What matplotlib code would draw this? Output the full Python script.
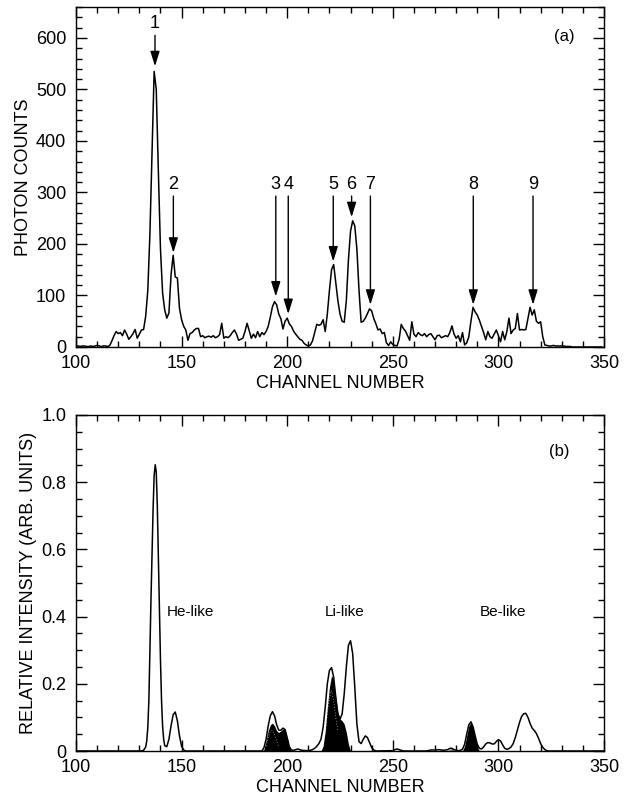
import matplotlib
matplotlib.use('Agg')
import matplotlib.pyplot as plt
from matplotlib.ticker import MultipleLocator, FixedLocator

plt.rcParams['font.family'] = ['Liberation Sans', 'DejaVu Sans']

# ---- panel (a): measured spectrum, one value per channel 100..349 ----
channels = list(range(100, 350))
counts = [2, 2, 1, 2, 2, 1, 1, 2, 1, 2,
          3, 2, 1, 2, 2, 1, 3, 12, 22, 30,
          26, 28, 22, 33, 25, 15, 20, 26, 34, 17,
          25, 33, 34, 60, 110, 220, 380, 535, 500, 340,
          190, 105, 72, 56, 66, 140, 178, 136, 134, 75,
          53, 40, 33, 13, 26, 28, 33, 36, 36, 20,
          22, 18, 20, 21, 19, 22, 18, 20, 24, 46,
          17, 20, 18, 22, 28, 33, 25, 13, 15, 17,
          30, 46, 32, 17, 25, 18, 30, 20, 28, 24,
          30, 40, 58, 78, 88, 82, 64, 55, 35, 50,
          56, 45, 40, 31, 25, 20, 15, 13, 7, 4,
          2, 4, 12, 28, 44, 42, 44, 53, 30, 64,
          110, 150, 160, 125, 90, 64, 50, 48, 90, 170,
          225, 245, 235, 190, 110, 48, 50, 56, 65, 74,
          70, 55, 45, 33, 35, 26, 28, 8, 3, 10,
          5, 3, 2, 15, 44, 36, 31, 22, 13, 49,
          25, 20, 28, 24, 22, 26, 20, 24, 26, 20,
          14, 22, 23, 18, 20, 22, 20, 28, 41, 25,
          17, 22, 10, 28, 4, 8, 20, 50, 77, 68,
          62, 52, 40, 28, 14, 30, 20, 17, 25, 33,
          22, 10, 30, 14, 30, 56, 26, 33, 36, 65,
          33, 34, 33, 34, 55, 77, 62, 72, 50, 46,
          49, 20, 4, 3, 2, 2, 3, 2, 2, 2,
          2, 2, 1, 1, 1, 0, 0, 0, 0, 0,
          0, 0, 0, 0, 0, 0, 0, 0, 0, 0]

arrow_labels = ['1', '2', '3', '4', '5', '6', '7', '8', '9']
arrow_ch = [137.4, 146.1, 194.6, 200.5, 221.8, 230.5, 239.4, 288.1, 316.4]
arrow_tip = [545, 183, 98, 64, 166, 252, 82, 82, 82]
arrow_tail = [605, 293, 293, 293, 293, 293, 293, 293, 293]
label_y = [627, 316, 316, 316, 316, 316, 316, 316, 316]

# ---- panel (b): calculated relative intensities ----
b_ch = [100, 131, 132, 133, 133.5, 134, 134.5, 135, 135.5, 136, 136.5, 137, 137.5,
        138, 138.5, 139, 139.5, 140, 140.5, 141, 141.5, 142, 143, 144, 145, 146,
        147, 148, 149, 150, 151, 152, 188, 189, 190, 191, 192, 193, 194, 195,
        196, 197, 198, 199, 200, 201, 202, 203, 204, 205, 206, 207, 210, 211,
        212, 213, 214, 215, 216, 217, 218, 219, 220, 221, 222, 223, 224, 225,
        226, 227, 228, 229, 230, 231, 232, 233, 234, 235, 236, 237, 238, 239,
        240, 241, 242, 250, 251, 252, 253, 254, 255, 266, 268, 270, 272, 274,
        276, 277, 278, 279, 281, 282, 283, 284, 285, 286, 287, 288, 289, 290,
        291, 292, 293, 294, 295, 296, 297, 298, 299, 300, 301, 302, 303, 304,
        305, 306, 307, 308, 309, 310, 311, 312, 313, 314, 315, 316, 317, 318,
        319, 320, 321, 322, 323, 324, 350]
b_int = [0, 0, 0.002, 0.012, 0.03, 0.07, 0.15, 0.3, 0.45, 0.58, 0.72, 0.82, 0.852,
         0.83, 0.73, 0.58, 0.42, 0.27, 0.15, 0.075, 0.035, 0.016, 0.013, 0.035, 0.075, 0.108,
         0.116, 0.09, 0.045, 0.014, 0.003, 0, 0, 0.01, 0.035, 0.075, 0.105, 0.117, 0.105, 0.078,
         0.062, 0.062, 0.068, 0.064, 0.04, 0.013, 0.003, 0.002, 0.004, 0.006, 0.004, 0.002, 0.001, 0.002,
         0.004, 0.008, 0.014, 0.022, 0.035, 0.07, 0.13, 0.2, 0.24, 0.248, 0.22, 0.16, 0.11, 0.095,
         0.11, 0.17, 0.25, 0.315, 0.328, 0.29, 0.19, 0.08, 0.028, 0.022, 0.035, 0.045, 0.04, 0.025,
         0.01, 0.003, 0, 0.001, 0.004, 0.006, 0.004, 0.002, 0, 0, 0.003, 0.003, 0.004, 0.002,
         0.004, 0.008, 0.008, 0.004, 0.001, 0.002, 0.005, 0.02, 0.05, 0.078, 0.087, 0.072, 0.045, 0.02,
         0.008, 0.006, 0.012, 0.021, 0.025, 0.024, 0.021, 0.021, 0.028, 0.034, 0.03, 0.018, 0.008, 0.005,
         0.007, 0.012, 0.022, 0.04, 0.062, 0.085, 0.103, 0.111, 0.112, 0.1, 0.082, 0.068, 0.061, 0.052,
         0.038, 0.022, 0.011, 0.004, 0.001, 0, 0]

# black filled components (Li-like and Be-like lines)
fill1_ch = list(range(188, 203))
fill1 = [0, 0.005, 0.03, 0.06, 0.078, 0.083, 0.075, 0.06, 0.055, 0.06, 0.066, 0.062, 0.035, 0.01, 0]
fill2_ch = list(range(216, 231))
fill2 = [0, 0.015, 0.06, 0.13, 0.19, 0.225, 0.21, 0.16, 0.115, 0.095, 0.09, 0.08, 0.055, 0.02, 0]
fill3_ch = list(range(283, 292))
fill3 = [0, 0.015, 0.045, 0.075, 0.085, 0.07, 0.04, 0.012, 0]
grey_ch = [276, 277, 278, 279, 280]
grey = [0, 0.006, 0.007, 0.003, 0]
# white dotted sub-components inside the fills
sub1_ch = list(range(190, 197))
sub1 = [0.015, 0.04, 0.058, 0.062, 0.05, 0.03, 0.012]
sub2_ch = list(range(218, 225))
sub2 = [0.05, 0.11, 0.16, 0.18, 0.15, 0.1, 0.06]

fig = plt.figure(figsize=(6.3, 8.01), dpi=100)
ax1 = fig.add_axes([76/630, 1 - 347/801, 528/630, 340/801])
ax2 = fig.add_axes([76/630, 1 - 751/801, 528/630, 336/801])

fs = 13

def style(ax):
    ax.set_xlim(100, 350)
    ax.xaxis.set_major_locator(MultipleLocator(50))
    ax.xaxis.set_minor_locator(MultipleLocator(10))
    ax.tick_params(which='both', direction='in', top=True, right=True, width=1)
    ax.tick_params(which='major', length=8, labelsize=fs)
    ax.tick_params(which='minor', length=4.5)
    ax.tick_params(axis='x', pad=6)
    ax.tick_params(axis='y', pad=7)
    for s in ax.spines.values():
        s.set_linewidth(1)
    ax.set_xlabel('CHANNEL NUMBER', fontsize=fs, labelpad=2)

# (a)
ax1.plot(channels, counts, color='k', lw=1.1)
style(ax1)
ax1.set_ylim(0, 660)
ax1.yaxis.set_major_locator(MultipleLocator(100))
ax1.yaxis.set_minor_locator(MultipleLocator(20))
ax1.set_ylabel('PHOTON COUNTS', fontsize=fs, labelpad=3)
for i in range(len(arrow_labels)):
    ax1.annotate('', xy=(arrow_ch[i], arrow_tip[i]), xytext=(arrow_ch[i], arrow_tail[i]),
                 arrowprops=dict(arrowstyle='-|>,head_length=0.45,head_width=0.14',
                                 color='k', lw=1.0, shrinkA=0, shrinkB=0,
                                 mutation_scale=20))
    ax1.text(arrow_ch[i], label_y[i], arrow_labels[i], ha='center', va='center', fontsize=fs)
ax1.text(331, 602, '(a)', ha='center', va='center', fontsize=fs - 1)

# (b)
ax2.fill_between(fill1_ch, 0, fill1, color='k', lw=0)
ax2.fill_between(fill2_ch, 0, fill2, color='k', lw=0)
ax2.fill_between(fill3_ch, 0, fill3, color='k', lw=0)
ax2.fill_between(grey_ch, 0, grey, color='0.5', lw=0)
for xs, ys in [(sub1_ch, sub1), (sub2_ch, sub2)]:
    ax2.plot(xs, ys, color='white', lw=0.5, ls=(0, (1, 3)))
ax2.plot(b_ch, b_int, color='k', lw=1.1)
style(ax2)
ax2.set_ylim(0, 1.0)
ax2.yaxis.set_major_locator(FixedLocator([0, 0.2, 0.4, 0.6, 0.8, 1.0]))
ax2.set_yticklabels(['0', '0.2', '0.4', '0.6', '0.8', '1.0'])
ax2.yaxis.set_minor_locator(MultipleLocator(0.05))
ax2.set_ylabel('RELATIVE INTENSITY (ARB. UNITS)', fontsize=fs, labelpad=3)
ax2.text(154, 0.415, 'He-like', ha='center', va='center', fontsize=11)
ax2.text(227.4, 0.415, 'Li-like', ha='center', va='center', fontsize=11)
ax2.text(302.3, 0.415, 'Be-like', ha='center', va='center', fontsize=11)
ax2.text(329, 0.89, '(b)', ha='center', va='center', fontsize=fs - 1)

fig.savefig('out.png', dpi=100)
